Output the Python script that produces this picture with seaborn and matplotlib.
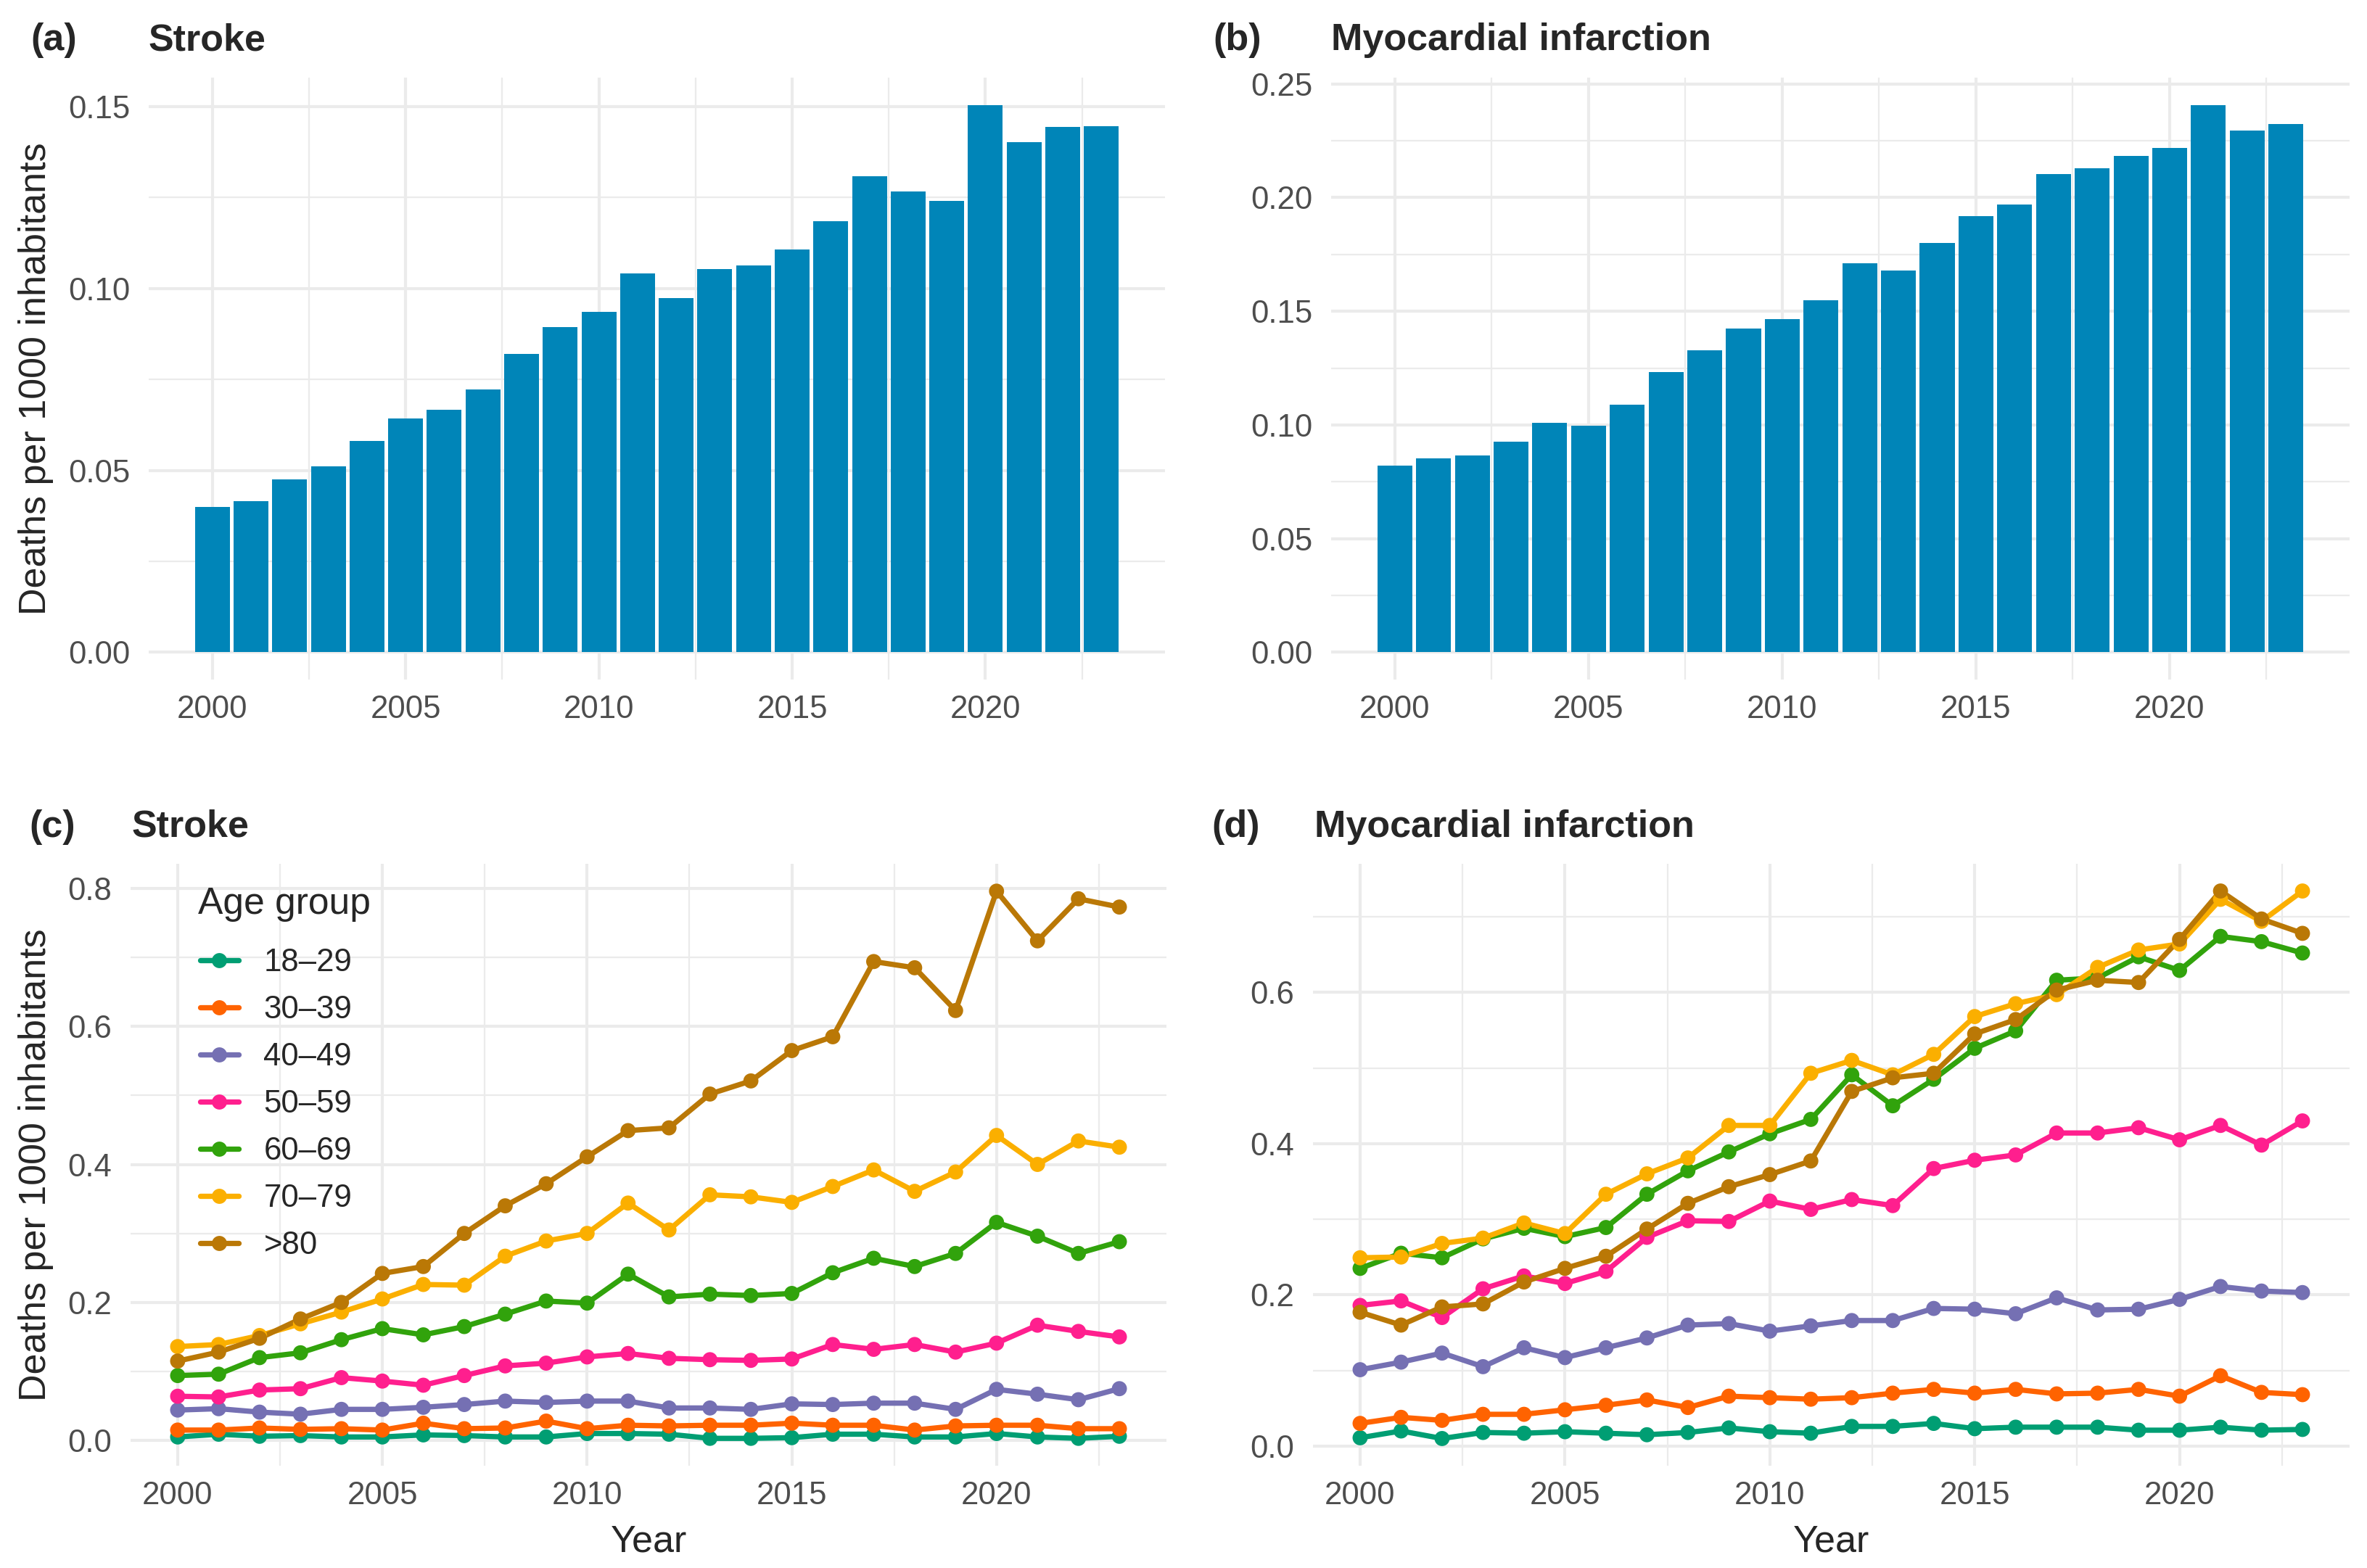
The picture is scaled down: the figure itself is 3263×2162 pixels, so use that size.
import numpy as np
import pandas as pd
import matplotlib
matplotlib.use("Agg")
import matplotlib.pyplot as plt
import seaborn as sns
from matplotlib.lines import Line2D
from matplotlib.ticker import FixedLocator, FormatStrFormatter

# ----------------------------------------------
# Data
# ----------------------------------------------
years = list(range(2000, 2024))

stroke_total = [0.0399, 0.0416, 0.0475, 0.0512, 0.0581, 0.0642, 0.0666, 0.0722,
                0.0821, 0.0894, 0.0936, 0.1042, 0.0974, 0.1053, 0.1063, 0.1108,
                0.1186, 0.1308, 0.1266, 0.1241, 0.1504, 0.1403, 0.1445, 0.1447]
mi_total = [0.0820, 0.0853, 0.0865, 0.0926, 0.1010, 0.0998, 0.1089, 0.1234,
            0.1329, 0.1425, 0.1466, 0.1549, 0.1712, 0.1678, 0.1802, 0.1920,
            0.1971, 0.2105, 0.2129, 0.2184, 0.2217, 0.2408, 0.2296, 0.2325]

age_groups = ["18–29", "30–39", "40–49", "50–59", "60–69", "70–79", ">80"]
age_colors = ["#009E73", "#FF6300", "#7570B3", "#FF1F8E", "#31A30C", "#FBAF00", "#BA7806"]

stroke_age = {
    "18–29": [0.005, 0.009, 0.006, 0.007, 0.005, 0.005, 0.008, 0.007, 0.005, 0.005, 0.010, 0.010,
              0.009, 0.003, 0.003, 0.004, 0.009, 0.009, 0.005, 0.005, 0.010, 0.005, 0.003, 0.006],
    "30–39": [0.015, 0.015, 0.018, 0.016, 0.017, 0.015, 0.025, 0.017, 0.018, 0.028, 0.017, 0.022,
              0.021, 0.022, 0.022, 0.025, 0.022, 0.022, 0.015, 0.021, 0.022, 0.022, 0.017, 0.017],
    "40–49": [0.044, 0.046, 0.041, 0.038, 0.045, 0.045, 0.048, 0.052, 0.057, 0.055, 0.057, 0.057,
              0.047, 0.047, 0.045, 0.053, 0.052, 0.054, 0.054, 0.045, 0.074, 0.067, 0.059, 0.075],
    "50–59": [0.064, 0.063, 0.073, 0.075, 0.091, 0.086, 0.080, 0.094, 0.108, 0.112, 0.121, 0.126,
              0.119, 0.117, 0.116, 0.118, 0.139, 0.132, 0.139, 0.128, 0.141, 0.167, 0.158, 0.150],
    "60–69": [0.094, 0.096, 0.120, 0.127, 0.146, 0.162, 0.153, 0.165, 0.183, 0.202, 0.199, 0.241,
              0.208, 0.212, 0.210, 0.213, 0.243, 0.264, 0.252, 0.271, 0.316, 0.296, 0.271, 0.288],
    "70–79": [0.136, 0.139, 0.152, 0.169, 0.186, 0.205, 0.226, 0.225, 0.267, 0.289, 0.300, 0.344,
              0.305, 0.356, 0.353, 0.345, 0.368, 0.392, 0.361, 0.389, 0.442, 0.400, 0.434, 0.425],
    ">80":   [0.115, 0.128, 0.148, 0.176, 0.200, 0.242, 0.252, 0.300, 0.340, 0.372, 0.411, 0.449,
              0.453, 0.502, 0.521, 0.565, 0.585, 0.694, 0.685, 0.623, 0.796, 0.724, 0.785, 0.773],
}

mi_age = {
    "18–29": [0.011, 0.020, 0.010, 0.018, 0.017, 0.019, 0.017, 0.015, 0.018, 0.024, 0.019, 0.017,
              0.026, 0.026, 0.030, 0.023, 0.025, 0.025, 0.025, 0.021, 0.021, 0.025, 0.021, 0.022],
    "30–39": [0.030, 0.038, 0.034, 0.042, 0.042, 0.048, 0.054, 0.061, 0.051, 0.066, 0.064, 0.062,
              0.064, 0.070, 0.075, 0.070, 0.075, 0.069, 0.070, 0.075, 0.066, 0.093, 0.071, 0.068],
    "40–49": [0.101, 0.111, 0.123, 0.105, 0.130, 0.117, 0.130, 0.143, 0.160, 0.162, 0.152, 0.159,
              0.166, 0.166, 0.182, 0.181, 0.175, 0.196, 0.180, 0.181, 0.194, 0.211, 0.205, 0.203],
    "50–59": [0.186, 0.192, 0.170, 0.208, 0.225, 0.215, 0.231, 0.276, 0.298, 0.297, 0.324, 0.313,
              0.326, 0.318, 0.367, 0.378, 0.385, 0.414, 0.414, 0.421, 0.405, 0.424, 0.398, 0.430],
    "60–69": [0.235, 0.255, 0.249, 0.274, 0.288, 0.277, 0.289, 0.333, 0.364, 0.389, 0.413, 0.432,
              0.491, 0.450, 0.485, 0.526, 0.549, 0.616, 0.619, 0.647, 0.629, 0.674, 0.667, 0.652],
    "70–79": [0.249, 0.250, 0.268, 0.275, 0.295, 0.281, 0.333, 0.360, 0.381, 0.424, 0.424, 0.493,
              0.510, 0.491, 0.518, 0.568, 0.585, 0.597, 0.633, 0.656, 0.664, 0.723, 0.694, 0.734],
    ">80":   [0.177, 0.160, 0.184, 0.188, 0.217, 0.235, 0.251, 0.287, 0.321, 0.343, 0.359, 0.377,
              0.469, 0.487, 0.493, 0.545, 0.564, 0.603, 0.616, 0.613, 0.670, 0.734, 0.697, 0.678],
}

bar_color = "#0085B8"
palette = dict(zip(age_groups, age_colors))

# ----------------------------------------------
# Theme (ggplot theme_minimal look)
# ----------------------------------------------
sns.set_theme(style="white")
plt.rcParams["font.family"] = ["Liberation Sans", "DejaVu Sans"]

W, H = 3263, 2162
fig = plt.figure(figsize=(W / 300, H / 300), dpi=300)


def px_axes(x0, y0, x1, y1):
    # pixel box (top-left origin) -> figure axes
    return fig.add_axes([x0 / W, 1 - y1 / H, (x1 - x0) / W, (y1 - y0) / H])


def style_axes(ax, ymajor, fmt, ylim, xlim):
    ax.set_xlim(*xlim)
    ax.set_ylim(*ylim)
    ax.xaxis.set_major_locator(FixedLocator([2000, 2005, 2010, 2015, 2020]))
    ax.xaxis.set_minor_locator(FixedLocator([1997.5, 2002.5, 2007.5, 2012.5, 2017.5, 2022.5]))
    ax.xaxis.set_major_formatter(FormatStrFormatter("%d"))
    step = ymajor[1] - ymajor[0]
    ax.yaxis.set_major_locator(FixedLocator(ymajor))
    ax.yaxis.set_minor_locator(FixedLocator([v + step / 2 for v in ymajor]))
    ax.yaxis.set_major_formatter(FormatStrFormatter(fmt))
    ax.grid(which="major", color="#EBEBEB", linewidth=1.0)
    ax.grid(which="minor", color="#EBEBEB", linewidth=0.55)
    ax.set_axisbelow(True)
    for s in ax.spines.values():
        s.set_visible(False)
    ax.tick_params(which="both", length=0, labelsize=10.5, labelcolor="#4D4D4D")
    ax.tick_params(axis="y", pad=6.2)
    ax.tick_params(axis="x", pad=5.0)
    ax.set_xlabel("")
    ax.set_ylabel("")


def add_title(letter, text, x_letter, x_text, y_base):
    fig.text(x_letter / W, 1 - y_base / H, letter, fontsize=12.5, fontweight="bold",
             va="baseline", ha="left")
    fig.text(x_text / W, 1 - y_base / H, text, fontsize=12.5, fontweight="bold",
             va="baseline", ha="left")


bar_df_a = pd.DataFrame({"Year": years, "rate": stroke_total})
bar_df_b = pd.DataFrame({"Year": years, "rate": mi_total})

# ----------------------------------------------
# (a) Stroke, (b) Myocardial infarction - totals
# ----------------------------------------------
ax_a = px_axes(205, 107, 1606, 937)
sns.barplot(data=bar_df_a, x="Year", y="rate", native_scale=True, width=0.9,
            color=bar_color, saturation=1, ax=ax_a)
style_axes(ax_a, [0.0, 0.05, 0.10, 0.15], "%.2f", (-0.0075, 0.158), (1998.355, 2024.645))

ax_b = px_axes(1835, 107, 3239, 937)
sns.barplot(data=bar_df_b, x="Year", y="rate", native_scale=True, width=0.9,
            color=bar_color, saturation=1, ax=ax_b)
style_axes(ax_b, [0.0, 0.05, 0.10, 0.15, 0.20, 0.25], "%.2f", (-0.012, 0.2528), (1998.355, 2024.645))

for b in ax_a.patches + ax_b.patches:
    b.set_edgecolor("none")

# ----------------------------------------------
# (c), (d) by age group
# ----------------------------------------------
def long_df(d):
    rows = []
    for g in age_groups:
        for yr, v in zip(years, d[g]):
            rows.append((yr, g, v))
    return pd.DataFrame(rows, columns=["Year", "Age group", "rate"])


df_c = long_df(stroke_age)
df_d = long_df(mi_age)

ax_c = px_axes(180, 1191, 1608, 2021)
ax_d = px_axes(1810, 1191, 3239, 2021)
for ax, df in [(ax_c, df_c), (ax_d, df_d)]:
    sns.lineplot(data=df, x="Year", y="rate", hue="Age group", hue_order=age_groups,
                 palette=palette, linewidth=1.75, legend=False, ax=ax)
    sns.scatterplot(data=df, x="Year", y="rate", hue="Age group", hue_order=age_groups,
                    palette=palette, s=25, linewidth=0, legend=False, ax=ax, zorder=3)

style_axes(ax_c, [0.0, 0.2, 0.4, 0.6, 0.8], "%.1f", (-0.0367, 0.8357), (1998.85, 2024.15))
style_axes(ax_d, [0.0, 0.2, 0.4, 0.6], "%.1f", (-0.026, 0.770), (1998.85, 2024.15))

# axis titles, placed in figure pixels
for ax, xc in [(ax_c, (180 + 1608) / 2), (ax_d, (1810 + 3239) / 2)]:
    ax.set_xlabel("Year", fontsize=12.5)
    ax.xaxis.label.set_va("top")
    ax.xaxis.set_label_coords(xc / W, 1 - 2101 / H, transform=fig.transFigure)

for ax, yc in [(ax_a, 522), (ax_c, 1606)]:
    ax.set_ylabel("Deaths per 1000 inhabitants", fontsize=12.5)
    ax.yaxis.set_label_coords(74 / W, 1 - yc / H, transform=fig.transFigure)

# legend inside panel (c): title as separate text, entries below
fig.text(273 / W, 1 - 1260 / H, "Age group", fontsize=12.4, va="baseline", ha="left")
handles = [Line2D([0], [0], color=c, linewidth=1.75, marker="o", markersize=5,
                  markeredgewidth=0) for c in age_colors]
leg = ax_c.legend(handles, age_groups, loc="upper left",
                  bbox_to_anchor=(276 / W, 1 - 1307 / H), bbox_transform=fig.transFigure,
                  frameon=False, fontsize=10.5,
                  handlelength=1.2, handletextpad=0.8, labelspacing=0.55, borderpad=0,
                  borderaxespad=0)

# panel titles
add_title("(a)", "Stroke", 42, 205, 69)
add_title("(b)", "Myocardial infarction", 1672, 1835, 69)
add_title("(c)", "Stroke", 40, 182, 1154)
add_title("(d)", "Myocardial infarction", 1670, 1812, 1154)

fig.savefig("out.png", dpi=300, facecolor="white")
